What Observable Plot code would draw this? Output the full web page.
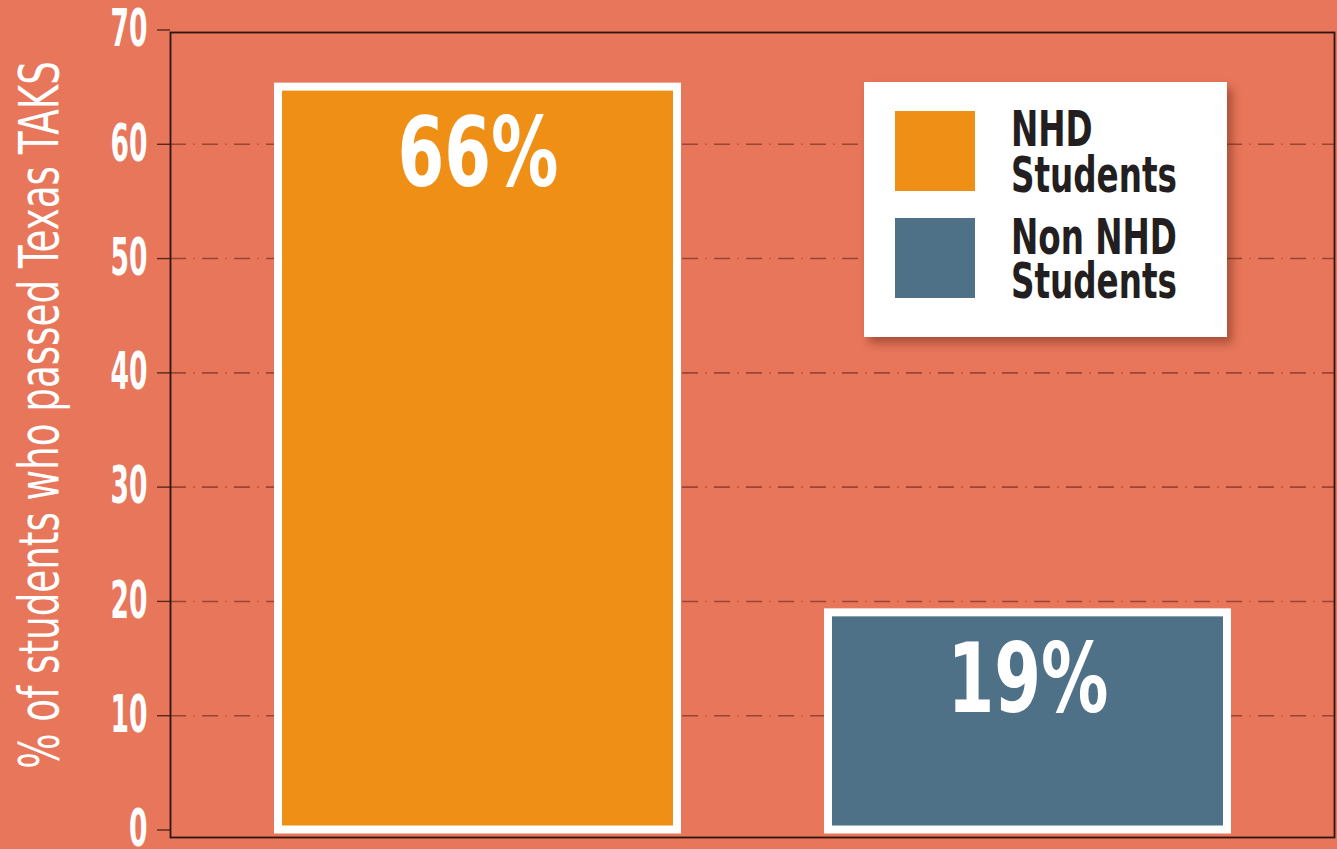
<!DOCTYPE html>
<html><head><meta charset="utf-8">
<script src="https://cdn.jsdelivr.net/npm/d3@7"></script>
<script src="https://cdn.jsdelivr.net/npm/@observablehq/plot@0.6"></script>
<style>
html,body{margin:0;padding:0;background:#E8765A;}
#wrap{position:relative;width:1337px;height:849px;overflow:hidden;background:#E8765A;}
#wrap svg.plot{position:absolute;left:0;top:0;}
#legend{position:absolute;left:864px;top:82px;width:363px;height:255px;background:#fff;box-shadow:5px 6px 9px rgba(90,30,15,0.45);}
</style></head><body><div id="wrap"><div id="plotholder"></div><div id="legend"></div></div>
<script>
const groups = ["NHD Students", "Non NHD Students"];
const values = [65, 19];
const labels = ["66%", "19%"];
const colors = ["#EF8F15", "#4E7188"];
const yTicks = [0, 10, 20, 30, 40, 50, 60, 70];
const gridTicks = [10, 20, 30, 40, 50, 60];
const yTitle = "% of students who passed Texas TAKS";
const legendLines = [["NHD", "Students"], ["Non NHD", "Students"]];

const FONT = "'DejaVu Sans Condensed', 'DejaVu Sans', sans-serif";
const data = groups.map((g, i) => ({group: g, value: values[i], label: labels[i], color: colors[i]}));

const plot = Plot.plot({
  width: 1337, height: 849,
  marginLeft: 170, marginRight: 3, marginTop: 29.5, marginBottom: 19.5,
  style: {background: "transparent", overflow: "visible"},
  x: {domain: groups, paddingInner: 0.275, paddingOuter: 0.194, axis: null},
  y: {domain: [0, 70], axis: null},
  marks: [
    Plot.gridY(gridTicks, {stroke: "#9A4431", strokeOpacity: 1, strokeWidth: 1.6, strokeDasharray: "16,7.5,1,7.5"}),
    Plot.axisY(yTicks, {tickSize: 13, tickPadding: 10, stroke: "#5a281c", fill: "white", color: "white",
      fontSize: 51, fontWeight: "bold", fontFamily: FONT, label: null, strokeWidth: 1.4}),
    Plot.frame({stroke: "#2b1610", strokeWidth: 1.8, insetTop: 2.5, insetBottom: -7.5}),
    Plot.barY(data, {x: "group", y: "value", fill: "color", stroke: "white", strokeWidth: 8}),
    Plot.text(data, {x: "group", y: "value", text: "label", dy: 68, fill: "white", fontSize: 96,
      fontWeight: "bold", fontFamily: FONT, lineAnchor: "middle"}),
    Plot.text([yTitle], {frameAnchor: "left", textAnchor: "middle", rotate: -90, dx: -130, dy: -15, fill: "white",
      fontSize: 55, fontWeight: 200, fontFamily: FONT, lineAnchor: "middle"})
  ]
});
plot.classList.add("plot");
document.getElementById("plotholder").appendChild(plot);

function squeeze(nodes, refNode, target) {
  if (!nodes.length) return;
  const len = refNode.getComputedTextLength();
  const s = target / len;
  nodes.forEach(t => {
    const tr = t.getAttribute("transform");
    if (tr) {
      t.setAttribute("transform", tr + ` scale(${s},1)`);
    } else {
      const x = +(t.getAttribute("x") || 0);
      t.setAttribute("transform", `translate(${x},0) scale(${s},1) translate(${-x},0)`);
    }
  });
}
const allTexts = Array.from(plot.querySelectorAll("text"));
const tickSet = new Set(yTicks.map(String));
const tickTexts = allTexts.filter(t => tickSet.has(t.textContent.trim()));
const ref70 = tickTexts.find(t => t.textContent.trim() === "70") || tickTexts[0];
squeeze(tickTexts, ref70, 37);
const barTexts = allTexts.filter(t => labels.includes(t.textContent.trim()));
squeeze(barTexts, barTexts.find(t => t.textContent.trim() === labels[0]) || barTexts[0], 161);
const titleTexts = allTexts.filter(t => t.textContent.trim() === yTitle);
squeeze(titleTexts, titleTexts[0], 708);

// Legend
const lsvg = d3.select("#legend").append("svg").attr("width", 363).attr("height", 255);
const swatchTops = [29, 136];
const baselines = [[64, 110], [172, 216]];
const legTexts = [];
legendLines.forEach((lines, i) => {
  lsvg.append("rect").attr("x", 31).attr("y", swatchTops[i]).attr("width", 80).attr("height", 80)
    .attr("fill", colors[i]);
  lines.forEach((ln, j) => {
    const t = lsvg.append("text").attr("x", 147).attr("y", baselines[i][j])
      .attr("fill", "#231F20").attr("font-family", FONT).attr("font-weight", "bold")
      .attr("font-size", 49.5).text(ln);
    legTexts.push(t.node());
  });
});
squeeze(legTexts, legTexts[1], 166);
</script></body></html>
